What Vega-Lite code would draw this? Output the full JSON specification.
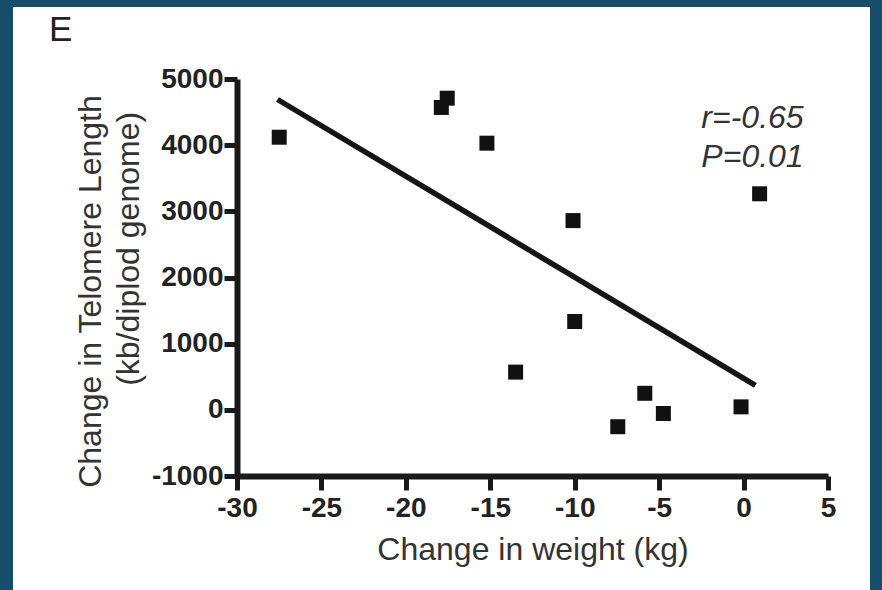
{
  "$schema": "https://vega.github.io/schema/vega-lite/v6.json",
  "width": 857,
  "height": 583,
  "autosize": {"type": "none"},
  "padding": {"left": 13, "top": 7, "right": 12, "bottom": 0},
  "background": "#164d6b",
  "config": {"view": {"fill": "white", "stroke": null}, "font": "Liberation Sans"},
  "title": {"text": "E", "anchor": "start", "orient": "top", "offset": -41, "dx": 36, "fontSize": 35, "fontWeight": "normal", "color": "#222", "font": "Liberation Sans"},
  "datasets": {
    "points": [
      {"weight": -27.5, "telomere": 4120},
      {"weight": -17.55, "telomere": 4710},
      {"weight": -17.9, "telomere": 4570},
      {"weight": -15.2, "telomere": 4030},
      {"weight": -10.1, "telomere": 2860},
      {"weight": -10.0, "telomere": 1335},
      {"weight": -13.5, "telomere": 570},
      {"weight": -5.85, "telomere": 250},
      {"weight": -4.75, "telomere": -55},
      {"weight": -7.45, "telomere": -255},
      {"weight": -0.15, "telomere": 45},
      {"weight": 0.95, "telomere": 3265}
    ],
    "fit": [
      {"weight": -27.6, "telomere": 4690},
      {"weight": 0.7, "telomere": 370}
    ],
    "stats": [
      {"weight": -2.5, "telomere": 4260, "label": "r=-0.65"},
      {"weight": -2.5, "telomere": 3670, "label": "P=0.01"}
    ]
  },
  "encoding": {
    "x": {
      "field": "weight", "type": "quantitative",
      "scale": {"domain": [-30, 5], "range": [224, 815], "nice": false, "zero": false},
      "axis": {
        "orient": "bottom", "offset": -114,
        "values": [-30, -25, -20, -15, -10, -5, 0, 5],
        "labelExpr": "'' + datum.value",
        "grid": false,
        "domainWidth": 6, "domainColor": "#1a1a1a",
        "tickWidth": 5, "tickSize": 14, "tickColor": "#1a1a1a",
        "labelFont": "Liberation Sans", "labelFontSize": 28, "labelFontWeight": "bold", "labelColor": "#222",
        "labelPadding": 4, "labelFlush": false, "labelOverlap": false,
        "title": "Change in weight (kg)",
        "titleFont": "Liberation Sans", "titleFontSize": 32, "titleFontWeight": "normal", "titleColor": "#333",
        "titlePadding": 12
      }
    },
    "y": {
      "field": "telomere", "type": "quantitative",
      "scale": {"domain": [-1000, 5000], "range": [469, 72], "nice": false, "zero": false},
      "axis": {
        "orient": "left", "offset": -224,
        "values": [-1000, 0, 1000, 2000, 3000, 4000, 5000],
        "labelExpr": "'' + datum.value",
        "grid": false,
        "domainWidth": 6, "domainColor": "#1a1a1a",
        "tickWidth": 5, "tickSize": 13, "tickColor": "#1a1a1a",
        "labelFont": "Liberation Sans", "labelFontSize": 28, "labelFontWeight": "bold", "labelColor": "#222",
        "labelPadding": 1, "labelFlush": false, "labelOverlap": false,
        "title": ["Change in Telomere Length", "\u2800\u00a0\u00a0\u00a0\u00a0\u00a0\u00a0\u00a0(kb/diplod genome)"],
        "titleFont": "Liberation Sans", "titleFontSize": 32, "titleFontWeight": "normal", "titleColor": "#333",
        "titleLineHeight": 38,
        "titleY": 284,
        "titlePadding": 6
      }
    }
  },
  "layer": [
    {
      "data": {"name": "fit"},
      "mark": {"type": "line", "color": "#151515", "strokeWidth": 5.5}
    },
    {
      "data": {"name": "points"},
      "mark": {"type": "point", "shape": "square", "filled": true, "size": 225, "color": "#111111", "opacity": 1}
    },
    {
      "data": {"name": "stats"},
      "mark": {"type": "text", "align": "left", "baseline": "alphabetic", "fontStyle": "italic", "fontSize": 32, "color": "#333333", "font": "Liberation Sans"},
      "encoding": {"text": {"field": "label", "type": "nominal"}}
    }
  ]
}
